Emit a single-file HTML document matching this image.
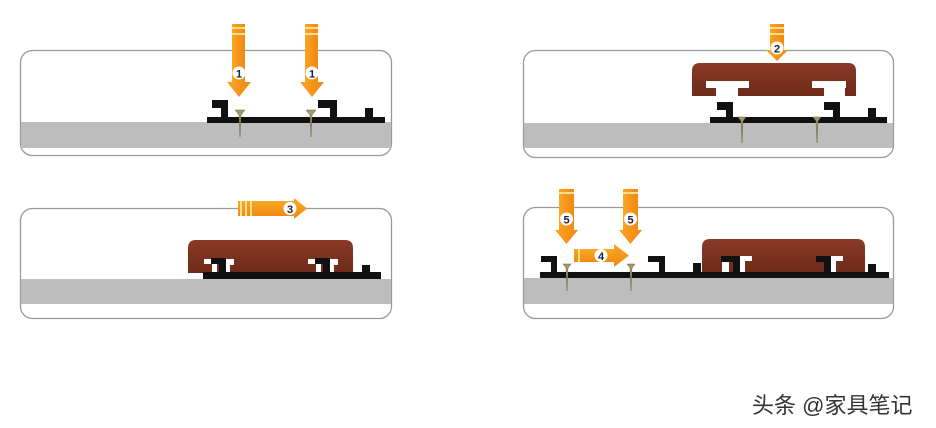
<!DOCTYPE html>
<html><head><meta charset="utf-8"><style>
html,body{margin:0;padding:0;background:#fff;width:936px;height:428px;overflow:hidden}
svg{display:block}
</style></head><body>
<svg width="936" height="428" viewBox="0 0 936 428" xmlns="http://www.w3.org/2000/svg" font-family="Liberation Sans, sans-serif">
<defs>
<linearGradient id="og" x1="0" x2="1" y1="0" y2="0"><stop offset="0" stop-color="#f9a825"/><stop offset="0.5" stop-color="#f7941d"/><stop offset="1" stop-color="#f08a10"/></linearGradient>
<linearGradient id="og2" x1="0" x2="0" y1="0" y2="1"><stop offset="0" stop-color="#f9a825"/><stop offset="1" stop-color="#f08a10"/></linearGradient>
<linearGradient id="wood" x1="0" x2="0" y1="0" y2="1"><stop offset="0" stop-color="#8a3a26"/><stop offset="1" stop-color="#6e2a1a"/></linearGradient>
</defs>
<rect width="936" height="428" fill="#fff"/>

<!-- panels -->
<g stroke="#9a9a9a" stroke-width="1.3" fill="#fff">
<rect x="20.5" y="50.5" width="371" height="105" rx="12"/>
<rect x="523.5" y="50.5" width="370" height="107" rx="12"/>
<rect x="20.5" y="208.5" width="371" height="110" rx="12"/>
<rect x="523.5" y="207.5" width="370" height="111" rx="12"/>
</g>
<g fill="#bdbdbd">
<rect x="21" y="122" width="370" height="26"/>
<rect x="524" y="123" width="369" height="25"/>
<rect x="21" y="279" width="370" height="25"/>
<rect x="524" y="278" width="369" height="26"/>
</g>

<!-- TL rail -->
<g fill="#111">
<rect x="207" y="117" width="178" height="6"/>
<rect x="212" y="100" width="16" height="8"/><rect x="221" y="100" width="7" height="18"/>
<rect x="318" y="100" width="19" height="8"/><rect x="330" y="100" width="7" height="18"/>
<rect x="365" y="108" width="8" height="10"/>
</g>
<g fill="#a39a6a" stroke="#6b6440" stroke-width="0.5">
<path d="M235 110 L245 110 L241 115 L240 137 L239 115 Z"/>
<path d="M306 110 L316 110 L312 115 L311 137 L310 115 Z"/>
</g>
<!-- arrows 1 -->
<g>
<rect x="232" y="24" width="13" height="59" fill="url(#og)"/><rect x="232" y="27" width="13" height="2" fill="#fde08a"/><rect x="232" y="33" width="13" height="2" fill="#fde08a"/>
<path d="M227 82 L251 82 L239 97 Z" fill="url(#og)"/>
<circle cx="239" cy="73" r="6.5" fill="#fff"/><text x="239" y="77.5" font-size="11" font-weight="bold" text-anchor="middle" fill="#223">1</text>
<rect x="305" y="24" width="13" height="59" fill="url(#og)"/><rect x="305" y="27" width="13" height="2" fill="#fde08a"/><rect x="305" y="33" width="13" height="2" fill="#fde08a"/>
<path d="M300 82 L324 82 L312 97 Z" fill="url(#og)"/>
<circle cx="312" cy="73" r="6.5" fill="#fff"/><text x="312" y="77.5" font-size="11" font-weight="bold" text-anchor="middle" fill="#223">1</text>
</g>

<!-- TR -->
<g fill="#111">
<rect x="710" y="117" width="177" height="6"/>
<rect x="717" y="102" width="16" height="8"/><rect x="726" y="102" width="7" height="16"/>
<rect x="824" y="102" width="16" height="8"/><rect x="833" y="102" width="7" height="16"/>
<rect x="868" y="108" width="8" height="10"/>
</g>
<path d="M700 63 L848 63 Q856 63 856 71 L856 96 L845 96 L845 88 L846 81 L812 81 L812 88 L824 88 L824 96 L738 96 L738 88 L749 88 L749 81 L706 81 L706 88 L716 88 L716 96 L692 96 L692 71 Q692 63 700 63 Z" fill="url(#wood)"/>
<rect x="706" y="81" width="43" height="7" fill="#fff"/><rect x="716" y="88" width="22" height="8" fill="#fff"/>
<rect x="812" y="81" width="34" height="7" fill="#fff"/><rect x="824" y="88" width="21" height="8" fill="#fff"/>
<g fill="#a39a6a" stroke="#6b6440" stroke-width="0.5">
<path d="M738 117 L746 117 L743 121 L742 143 L741 121 Z"/>
<path d="M813 117 L821 117 L818 121 L817 143 L816 121 Z"/>
</g>
<rect x="770" y="24" width="14" height="20" fill="url(#og)"/><rect x="770" y="27" width="14" height="2" fill="#fde08a"/><rect x="770" y="33" width="14" height="2" fill="#fde08a"/>
<path d="M766 50 L788 50 L777 61 Z" fill="url(#og)"/><rect x="770" y="43" width="14" height="8" fill="url(#og)"/>
<circle cx="777" cy="48" r="6.5" fill="#fff"/><text x="777" y="52.5" font-size="11" font-weight="bold" text-anchor="middle" fill="#223">2</text>

<!-- BL -->
<path d="M196 240 L345 240 Q353 240 353 248 L353 273 L188 273 L188 248 Q188 240 196 240 Z" fill="url(#wood)"/>
<g fill="#fff"><rect x="204" y="259" width="7" height="5"/><rect x="212" y="264" width="5" height="8"/><rect x="226" y="259" width="8" height="6"/><rect x="226" y="265" width="4" height="7"/>
<rect x="308" y="259" width="7" height="5"/><rect x="316" y="264" width="5" height="8"/><rect x="330" y="259" width="8" height="6"/><rect x="330" y="265" width="4" height="7"/></g>
<g fill="#111">
<rect x="203" y="272" width="178" height="7"/>
<rect x="211" y="258" width="15" height="6"/><rect x="219" y="258" width="7" height="15"/>
<rect x="315" y="258" width="15" height="6"/><rect x="323" y="258" width="7" height="15"/>
<rect x="362" y="265" width="8" height="8"/>
</g>
<rect x="238" y="201" width="58" height="15" fill="url(#og2)"/>
<rect x="240" y="201" width="2" height="15" fill="#fde08a"/><rect x="245" y="201" width="2" height="15" fill="#fde08a"/><rect x="250" y="201" width="2" height="15" fill="#fde08a"/>
<path d="M294 198 L307 208.5 L294 219 Z" fill="url(#og2)"/>
<circle cx="290" cy="208.5" r="6.5" fill="#fff"/><text x="290" y="213" font-size="11" font-weight="bold" text-anchor="middle" fill="#223">3</text>

<!-- BR -->
<path d="M710 239 L857 239 Q865 239 865 247 L865 272 L702 272 L702 247 Q702 239 710 239 Z" fill="url(#wood)"/>
<g fill="#fff"><rect x="722" y="256" width="7" height="16" fill="#fff"/><rect x="740" y="256" width="12" height="5"/><rect x="740" y="261" width="5" height="11"/>
<rect x="831" y="256" width="12" height="5"/><rect x="831" y="261" width="5" height="11"/></g>
<g fill="#111">
<rect x="540" y="272" width="349" height="6"/>
<rect x="541" y="256" width="16" height="6"/><rect x="551" y="256" width="6" height="17"/>
<rect x="648" y="256" width="17" height="6"/><rect x="659" y="256" width="6" height="17"/>
<rect x="693" y="263" width="8" height="10"/>
<rect x="721" y="256" width="19" height="6"/><rect x="733" y="256" width="7" height="17"/>
<rect x="816" y="256" width="15" height="6"/><rect x="824" y="256" width="7" height="17"/>
<rect x="868" y="264" width="8" height="9"/>
</g>
<g fill="#a39a6a" stroke="#6b6440" stroke-width="0.5">
<path d="M563 264 L571 264 L568 268 L567 291 L566 268 Z"/>
<path d="M627 264 L635 264 L632 268 L631 291 L630 268 Z"/>
</g>
<rect x="559" y="189" width="15" height="42" fill="url(#og)"/><rect x="559" y="192" width="15" height="2" fill="#fde08a"/>
<path d="M555 230 L578 230 L566.5 244 Z" fill="url(#og)"/>
<circle cx="566.5" cy="219" r="6.5" fill="#fff"/><text x="566.5" y="223.5" font-size="11" font-weight="bold" text-anchor="middle" fill="#223">5</text>
<rect x="623" y="189" width="15" height="42" fill="url(#og)"/><rect x="623" y="192" width="15" height="2" fill="#fde08a"/>
<path d="M619 230 L642 230 L630.5 244 Z" fill="url(#og)"/>
<circle cx="630.5" cy="219" r="6.5" fill="#fff"/><text x="630.5" y="223.5" font-size="11" font-weight="bold" text-anchor="middle" fill="#223">5</text>
<rect x="574" y="249" width="42" height="13" fill="url(#og2)"/><rect x="578" y="249" width="2" height="13" fill="#fde08a"/>
<path d="M614 244 L629 255.5 L614 267 Z" fill="url(#og2)"/>
<circle cx="601" cy="255.5" r="6.5" fill="#fff"/><text x="601" y="260" font-size="11" font-weight="bold" text-anchor="middle" fill="#223">4</text>

<text x="752" y="413" font-size="22" fill="#333" font-family="Liberation Sans, Noto Sans CJK SC, sans-serif">头条 @家具笔记</text>
</svg>
</body></html>
